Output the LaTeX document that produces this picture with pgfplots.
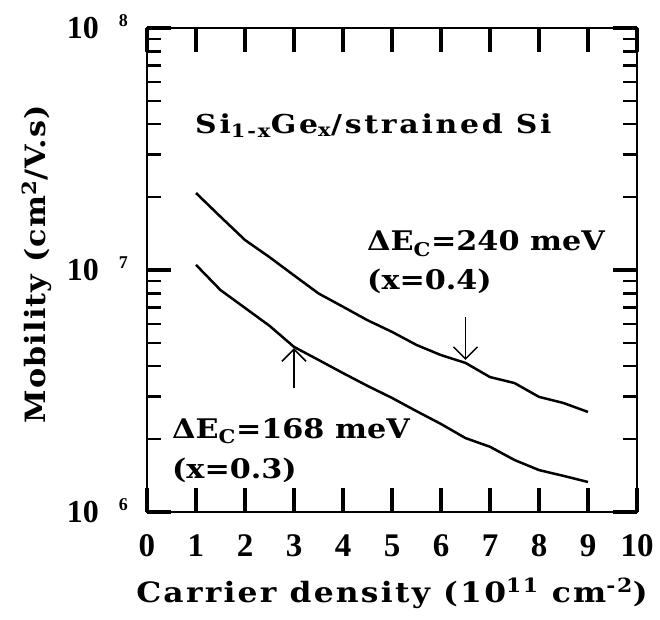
\documentclass[border=0pt]{standalone}
\usepackage{fontspec}
\setmainfont{DejaVu Serif}
\newfontfamily\labfont{DejaVu Serif}[FakeStretch=1.12, LetterSpace=8]
\newfontfamily\ylabfont{DejaVu Serif}[FakeStretch=1.08, LetterSpace=4]
\newfontfamily\notefont{DejaVu Serif}[FakeStretch=1.12]
\newfontfamily\sifont{DejaVu Serif}[FakeStretch=1.15, LetterSpace=10.5]
\newfontfamily\tickfont{Liberation Serif}
\usepackage{pgfplots}
\pgfplotsset{compat=1.18}
\usetikzlibrary{arrows.meta}

% mobility vs. carrier density, x = 0.4 (upper) and x = 0.3 (lower)
\pgfplotstableread{
n    mu
1.0  2.08e7
1.5  1.66e7
2.0  1.33e7
2.5  1.13e7
3.0  9.5e6
3.5  8.0e6
4.0  7.05e6
4.5  6.2e6
5.0  5.55e6
5.5  4.9e6
6.0  4.45e6
6.5  4.13e6
7.0  3.61e6
7.5  3.41e6
8.0  2.99e6
8.5  2.82e6
9.0  2.59e6
}\highx
\pgfplotstableread{
n    mu
1.0  1.05e7
1.5  8.26e6
2.0  6.97e6
2.5  5.88e6
3.0  4.81e6
3.5  4.25e6
4.0  3.75e6
4.5  3.32e6
5.0  2.96e6
5.5  2.61e6
6.0  2.31e6
6.5  2.02e6
7.0  1.86e6
7.5  1.64e6
8.0  1.49e6
8.5  1.41e6
9.0  1.33e6
}\lowx

\newcommand{\dec}[1]{10\hspace{20pt}\raisebox{12pt}{\fontsize{18}{18}\selectfont #1}}

\begin{document}
\begin{tikzpicture}
\begin{axis}[
  name=ax,
  scale only axis,
  width=490pt, height=484pt,
  xmin=0, xmax=10,
  ymode=log, ymin=1e6, ymax=1e8,
  xtick={0,1,2,3,4,5,6,7,8,9,10},
  xticklabels={0,1,2,3,4,5,6,7,8,9,10},
  ytick={1e6,1e7,1e8},
  yticklabels={\dec{6},\dec{7},\dec{8}},
  tick align=inside,
  major tick length=24pt,
  minor tick length=14pt,
  axis line style={line width=2.6pt},
  major tick style={black, line width=3.2pt},
  minor tick style={black, line width=2.2pt},
  xticklabel style={font=\tickfont\bfseries\fontsize{33}{33}\selectfont,
    anchor=base, inner sep=0pt, yshift=-45pt},
  yticklabel style={font=\tickfont\bfseries\fontsize{32}{32}\selectfont,
    anchor=base east, inner sep=0pt, xshift=-19pt, yshift=-11pt},
  xlabel={Carrier density (10\textsuperscript{11} cm\textsuperscript{-2})},
  ylabel={Mobility (cm\textsuperscript{2}/V.s)},
  xlabel style={font=\labfont\bfseries\fontsize{28}{28}\selectfont, inner sep=0pt,
    at={(axis description cs:0.5,-0.186)}, anchor=base},
  ylabel style={font=\ylabfont\bfseries\fontsize{28}{28}\selectfont, inner sep=0pt,
    at={(axis description cs:-0.208,0.512)}, anchor=base},
  clip=false,
]
\addplot[black, line width=2.5pt, line join=round] table[x=n, y=mu] {\highx};
\addplot[black, line width=2.5pt, line join=round] table[x=n, y=mu] {\lowx};

\draw[line width=1.5pt, -{Straight Barb[length=12pt, width=24pt, line width=1.5pt]}]
  (axis cs:3,3.25e6) -- (axis cs:3,4.75e6);
\draw[line width=1.5pt, -{Straight Barb[length=12pt, width=24pt, line width=1.5pt]}]
  (axis cs:6.5,6.4e6) -- (axis cs:6.5,4.25e6);

\node[anchor=base west, inner sep=0pt, font=\sifont\bfseries\fontsize{26}{26}\selectfont]
  at (axis cs:0.98,3.68e7) {Si\textsubscript{1-x}Ge\textsubscript{x}/strained Si};
\node[anchor=base west, inner sep=0pt, font=\notefont\bfseries\fontsize{27}{27}\selectfont]
  at (axis cs:4.49,1.20e7) {ΔE\textsubscript{C}=240 meV};
\node[anchor=base west, inner sep=0pt, font=\notefont\bfseries\fontsize{27}{27}\selectfont]
  at (axis cs:4.49,8.3e6) {(x=0.4)};
\node[anchor=base west, inner sep=0pt, font=\notefont\bfseries\fontsize{27}{27}\selectfont]
  at (axis cs:0.51,2.02e6) {ΔE\textsubscript{C}=168 meV};
\node[anchor=base west, inner sep=0pt, font=\notefont\bfseries\fontsize{27}{27}\selectfont]
  at (axis cs:0.51,1.38e6) {(x=0.3)};
\end{axis}
\pgfresetboundingbox
\path ([shift={(-147pt,-107pt)}]ax.south west) rectangle ([shift={(23pt,28pt)}]ax.north east);
\end{tikzpicture}
\end{document}
